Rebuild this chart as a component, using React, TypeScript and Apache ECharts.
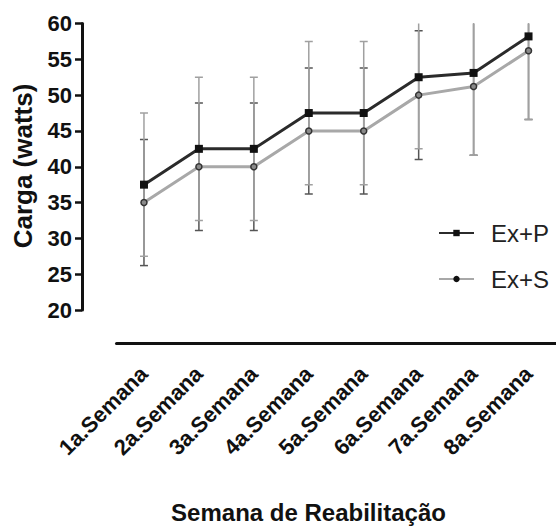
import React, { useEffect, useRef } from "react";
import * as echarts from "echarts";

const categories = [
  "1a.Semana",
  "2a.Semana",
  "3a.Semana",
  "4a.Semana",
  "5a.Semana",
  "6a.Semana",
  "7a.Semana",
  "8a.Semana",
];
const exP = [37.5, 42.5, 42.5, 47.5, 47.5, 52.5, 53.1, 58.2];
const exS = [35.0, 40.0, 40.0, 45.0, 45.0, 50.0, 51.2, 56.2];
const errP = [10, 10, 10, 10, 10, 10, 11.5, 11.6];
const errS = [8.8, 8.9, 8.9, 8.8, 8.8, 9.0, 9.6, 9.6];
const yTicks = { min: 20, max: 60, interval: 5 };

const FONT = "'Liberation Sans', Arial, sans-serif";

function errorRenderer(color: string, width: number) {
  return (params: any, api: any) => {
    const i = api.value(0);
    const v = api.value(1);
    const e = api.value(2);
    const top = api.coord([i, v + e]);
    const bot = api.coord([i, v - e]);
    const half = 4;
    const style = { stroke: color, lineWidth: width };
    return {
      type: "group",
      children: [
        { type: "line", shape: { x1: top[0], y1: top[1], x2: bot[0], y2: bot[1] }, style },
        { type: "line", shape: { x1: top[0] - half, y1: top[1], x2: top[0] + half, y2: top[1] }, style },
        { type: "line", shape: { x1: bot[0] - half, y1: bot[1], x2: bot[0] + half, y2: bot[1] }, style },
      ],
    };
  };
}

export default function App() {
  const ref = useRef<HTMLDivElement>(null);
  useEffect(() => {
    if (!ref.current) return;
    const chart = echarts.init(ref.current, undefined, { renderer: "svg" });
    chart.setOption({
      animation: false,
      backgroundColor: "#fff",
      grid: { left: 116.5, right: -5.1, top: 23.5, bottom: 217 },
      xAxis: {
        type: "category",
        data: categories,
        boundaryGap: true,
        offset: 33,
        axisLine: { lineStyle: { color: "#111", width: 3 } },
        axisTick: { alignWithLabel: true, length: 9, lineStyle: { color: "#111", width: 2.5 } },
        axisLabel: {
          rotate: 45,
          margin: 27,
          interval: 0,
          fontSize: 22,
          fontWeight: "bold",
          color: "#111",
          fontFamily: FONT,
        },
        splitLine: { show: false },
      },
      yAxis: {
        type: "value",
        min: yTicks.min,
        max: yTicks.max,
        interval: yTicks.interval,
        offset: 34.5,
        axisLine: { show: true, lineStyle: { color: "#111", width: 3 } },
        axisTick: { show: true, length: 7, lineStyle: { color: "#111", width: 2.5 } },
        axisLabel: {
          margin: 10,
          fontSize: 22,
          fontWeight: "bold",
          color: "#111",
          fontFamily: FONT,
        },
        splitLine: { show: false },
      },
      legend: {
        orient: "vertical",
        left: 433,
        top: 216,
        itemWidth: 35,
        itemHeight: 8,
        itemGap: 22,
        data: [
          { name: "Ex+P" },
          { name: "Ex+S", itemStyle: { color: "#111", borderWidth: 0 } },
        ],
        textStyle: { fontSize: 24, color: "#222", fontFamily: FONT, padding: [0, 0, 0, 12] },
      },
      graphic: [
        {
          type: "text",
          x: 23,
          y: 166,
          rotation: Math.PI / 2,
          style: {
            text: "Carga (watts)",
            fontSize: 26,
            fontWeight: "bold",
            fontFamily: FONT,
            fill: "#111",
            align: "center",
            verticalAlign: "middle",
          },
        },
        {
          type: "text",
          x: 308.5,
          y: 512,
          style: {
            text: "Semana de Reabilitação",
            fontSize: 24,
            fontWeight: "bold",
            fontFamily: FONT,
            fill: "#111",
            align: "center",
            verticalAlign: "middle",
          },
        },
      ],
      series: [
        {
          name: "errS",
          type: "custom",
          clip: true,
          z: 1,
          renderItem: errorRenderer("#555", 1.5),
          encode: { x: 0, y: 1 },
          data: categories.map((_, i) => [i, exS[i], errS[i]]),
        },
        {
          name: "errP",
          type: "custom",
          clip: true,
          z: 2,
          renderItem: errorRenderer("#a0a0a0", 1.5),
          encode: { x: 0, y: 1 },
          data: categories.map((_, i) => [i, exP[i], errP[i]]),
        },
        {
          name: "Ex+S",
          type: "line",
          z: 3,
          data: exS,
          symbol: "circle",
          symbolSize: 6,
          lineStyle: { color: "#a8a8a8", width: 3 },
          itemStyle: { color: "#8a8a8a", borderColor: "#333", borderWidth: 1.5 },
        },
        {
          name: "Ex+P",
          type: "line",
          z: 4,
          data: exP,
          symbol: "rect",
          symbolSize: 8,
          lineStyle: { color: "#2b2b2b", width: 3 },
          itemStyle: { color: "#111" },
        },
      ],
    });
    return () => chart.dispose();
  }, []);
  return (
    <div
      ref={ref}
      style={{ position: "absolute", left: 0, top: 0, width: 556, height: 527 }}
    />
  );
}
